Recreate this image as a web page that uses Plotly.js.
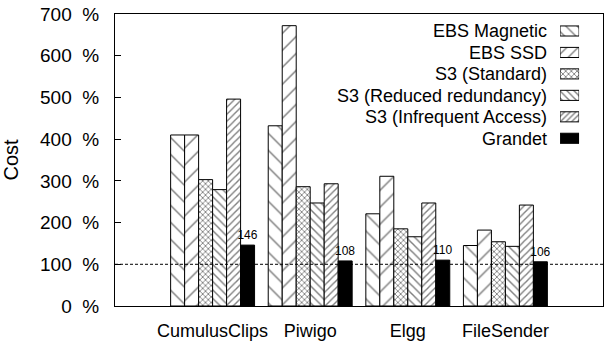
<!DOCTYPE html>
<html><head><meta charset="utf-8">
<script src="https://cdn.plot.ly/plotly-3.0.1.min.js"></script>
<style>html,body{margin:0;padding:0;background:#fff}</style>
</head><body><div id="chart" style="width:610px;height:341px"></div>
<script>
const categories = ['CumulusClips', 'Piwigo', 'Elgg', 'FileSender'];
const seriesNames = ['EBS Magnetic', 'EBS SSD', 'S3 (Standard)', 'S3 (Reduced redundancy)', 'S3 (Infrequent Access)', 'Grandet'];
const ebsMagnetic = [410, 432, 221, 145];
const ebsSSD = [410, 672, 311, 182];
const s3Standard = [303, 286, 185, 154];
const s3Reduced = [279, 247, 166, 143];
const s3Infrequent = [496, 293, 247, 242];
const grandet = [146, 108, 110, 106];
const yTickValues = [0, 100, 200, 300, 400, 500, 600, 700];
const yTickLabels = ['0\u00a0\u00a0%', '100\u00a0\u00a0%', '200\u00a0\u00a0%', '300\u00a0\u00a0%', '400\u00a0\u00a0%', '500\u00a0\u00a0%', '600\u00a0\u00a0%', '700\u00a0\u00a0%'];
const baseline = 100;

const seriesValues = [ebsMagnetic, ebsSSD, s3Standard, s3Reduced, s3Infrequent, grandet];
const patShapes = ['\\', '/', 'x', '\\', '/', ''];
const patSizes = [12, 12, 4, 6, 5, 8];
const patSolid = [0.12, 0.12, 0.4, 0.24, 0.28, 0.3];
const legSizes = [8, 8, 4, 5, 4, 8];
const legSolid = [0.17, 0.17, 0.4, 0.28, 0.34, 0.3];
const fillColors = ['white', 'white', 'white', 'white', 'white', 'black'];
const FONT = 'Liberation Sans, Arial, Helvetica, sans-serif';

const xIdx = categories.map((_, i) => i);
const traces = seriesValues.map((vals, s) => {
  const t = {
    type: 'bar', name: seriesNames[s], x: xIdx, y: vals,
    marker: {
      color: fillColors[s],
      line: {color: 'black', width: 1},
      pattern: {shape: patShapes[s], size: patSizes[s], solidity: patSolid[s], fgcolor: 'black', bgcolor: 'white', fillmode: 'overlay'}
    },
    showlegend: false, hoverinfo: 'y'
  };
  if (s === seriesNames.length - 1) {
    t.marker.pattern = {shape: ''};
    t.text = vals.map(String);
    t.textposition = 'outside';
    t.constraintext = 'none';
    t.textfont = {size: 12, color: 'black', family: FONT};
    t.cliponaxis = false;
  }
  return t;
});

// legend swatches: one small horizontal bar per series on a second axis pair
seriesNames.forEach((nm, s) => {
  const t = {
    type: 'bar', orientation: 'h', xaxis: 'x2', yaxis: 'y2',
    y: [nm], x: [1], width: 0.47, offset: -0.235,
    marker: {
      color: fillColors[s],
      line: {color: 'black', width: 1}
    },
    showlegend: false, hoverinfo: 'skip'
  };
  if (patShapes[s]) {
    t.marker.pattern = {shape: patShapes[s], size: legSizes[s], solidity: legSolid[s], fgcolor: 'black', bgcolor: 'white', fillmode: 'overlay'};
  }
  traces.push(t);
});

const layout = {
  width: 610, height: 341,
  margin: {l: 115, r: 7, t: 14, b: 35},
  paper_bgcolor: 'white', plot_bgcolor: 'white',
  font: {family: FONT, size: 18, color: 'black'},
  barmode: 'group', bargap: 0.14, bargroupgap: 0,
  showlegend: false,
  xaxis: {
    range: [-1, 4], tickvals: xIdx, ticktext: categories,
    showline: true, mirror: true, linecolor: 'black', linewidth: 1,
    ticks: '', showgrid: false, zeroline: false, ticklabelstandoff: 8,
    tickfont: {size: 18}
  },
  yaxis: {
    range: [0, 700], tickmode: 'array', tickvals: yTickValues, ticktext: yTickLabels,
    showline: true, mirror: true, linecolor: 'black', linewidth: 1,
    ticks: 'inside', ticklen: 6, tickcolor: 'black', showgrid: false, zeroline: false,
    ticklabelstandoff: 11, tickfont: {size: 19},
    title: {text: 'Cost', font: {size: 20}, standoff: 18}
  },
  xaxis2: {domain: [0.912, 0.951], range: [0, 1], anchor: 'y2', visible: false, fixedrange: true},
  yaxis2: {
    domain: [0.5376, 0.9786], anchor: 'x2', type: 'category', range: [5.5, -0.5],
    tickmode: 'array', tickvals: seriesNames, ticktext: seriesNames,
    showline: false, ticks: '', showgrid: false, zeroline: false,
    tickfont: {size: 18}, ticklabelstandoff: 12, fixedrange: true
  },
  shapes: [{
    type: 'line', xref: 'paper', x0: 0, x1: 1, yref: 'y', y0: baseline, y1: baseline,
    line: {color: 'black', width: 1, dash: '3px,2px'}, layer: 'above'
  }]
};

Plotly.newPlot('chart', traces, layout, {displayModeBar: false, staticPlot: true});
</script></body></html>
